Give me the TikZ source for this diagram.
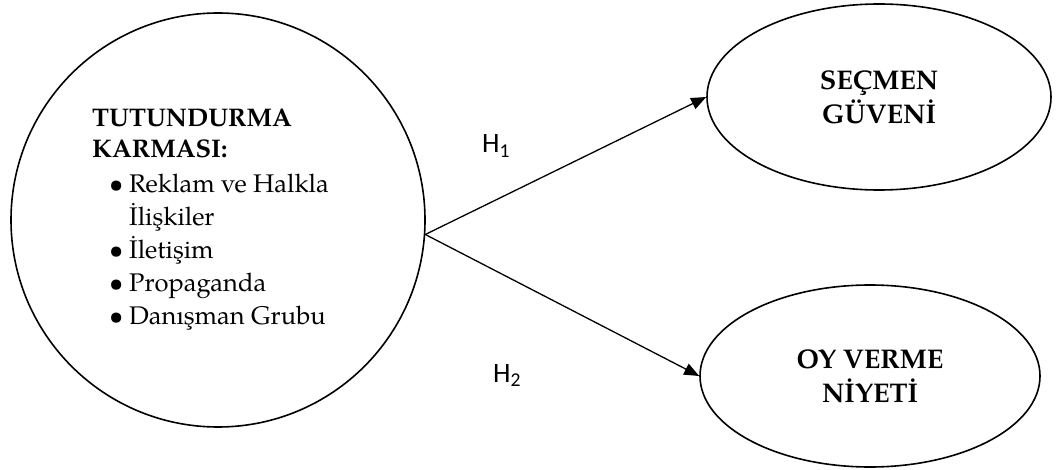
\documentclass[tikz,border=0pt]{standalone}
\usepackage{fontspec}
\setmainfont{TeX Gyre Pagella}
\newfontfamily\labelfont{Carlito}
\usetikzlibrary{shapes.geometric,arrows.meta}

\tikzset{
  outline/.style={draw=black, line width=1.6pt},
  construct/.style={outline, ellipse, inner sep=0pt, align=center,
    font=\fontsize{27}{34}\selectfont\bfseries},
  path arrow/.style={line width=1.3pt, -{Triangle[length=15pt,width=12pt]}},
  hyp/.style={anchor=base west, inner sep=0pt, font=\labelfont\fontsize{28}{30}\selectfont},
}
% bullet centred 24pt in from the margin, item text 37pt in
\newcommand{\bulletitem}[1]{\hspace{24pt}\makebox[0pt]{\textbullet}\hspace{13pt}#1}

\begin{document}
\begin{tikzpicture}[x=1pt, y=-1pt]
  \useasboundingbox (0,0) rectangle (1059,470);

  % independent construct with its components
  \node[outline, circle, minimum size=414pt, inner sep=0pt] (mix) at (218,220) {};
  \node[anchor=base west, inner sep=0pt, font=\fontsize{25.5}{33}\selectfont] (mixtext) at (92,127)
    {\begin{tabular}[t]{@{}l@{}}
      \textbf{TUTUNDURMA}\\[-2pt]
      \textbf{KARMASI:}\\[2pt]
      \bulletitem{Reklam ve Halkla}\\
      \hspace{37pt}İlişkiler\\
      \bulletitem{İletişim}\\
      \bulletitem{Propaganda}\\
      \bulletitem{Danışman Grubu}
    \end{tabular}};

  % dependent constructs
  \node[construct, minimum width=344pt, minimum height=186pt] (trust) at (879,97)
    {SEÇMEN\\GÜVENİ};
  \node[construct, minimum width=340pt, minimum height=182pt] (vote) at (870,376)
    {OY VERME\\NİYETİ};

  % hypothesised paths
  \coordinate (src) at (mix.-4.7);
  \draw[path arrow] (src) -- (trust.west);
  \draw[path arrow] (src) -- (vote.west);

  \node[hyp] (h1) at (482,153) {H\textsubscript{1}};
  \node[hyp] (h2) at (493,382) {H\textsubscript{2}};
\end{tikzpicture}
\end{document}
